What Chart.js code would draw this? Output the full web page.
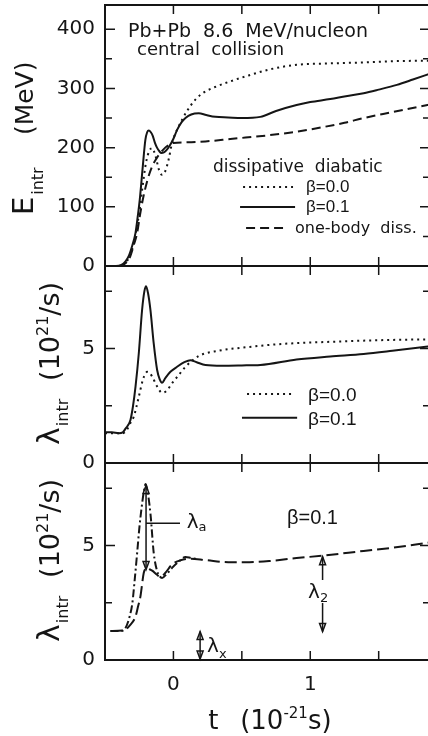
<!DOCTYPE html>
<html>
<head>
<meta charset="utf-8">
<script src="https://cdn.jsdelivr.net/npm/chart.js@4.4.1/dist/chart.umd.min.js"></script>
<style>
  html, body { margin: 0; padding: 0; background: #fff; overflow: hidden; }
  #wrap { position: relative; width: 428px; height: 736px; overflow: hidden; }
  #wrap canvas { position: absolute; left: 0; top: 0; }
</style>
</head>
<body>
<div id="wrap">
  <canvas id="energy" width="432" height="736"></canvas>
  <canvas id="rate" width="432" height="736"></canvas>
  <canvas id="split" width="432" height="736"></canvas>
</div>
<script>
// time axis (10^-21 s)
const X_MIN = -0.5;
const X_MAX = 1.875;

// top panel: E_intr (MeV)
const T_E_DOT = [-0.5, -0.4, -0.36, -0.33, -0.3, -0.275, -0.25, -0.225, -0.2, -0.175, -0.155, -0.13, -0.105, -0.083, -0.06, -0.035, -0.01, 0.03, 0.063, 0.1, 0.16, 0.22, 0.3, 0.416, 0.55, 0.7, 0.9, 1.1, 1.39, 1.6, 1.875];
const E_DOT = [0, 0, 3, 12, 30, 55, 90, 135, 175, 195, 199, 185, 162, 154, 160, 180, 208, 232, 247, 262, 281, 293, 302, 312, 322, 332, 340, 342, 344, 346, 347];
const T_E_SOLID = [-0.5, -0.42, -0.38, -0.35, -0.326, -0.3, -0.277, -0.26, -0.246, -0.224, -0.205, -0.192, -0.18, -0.165, -0.151, -0.135, -0.12, -0.1, -0.088, -0.07, -0.046, -0.02, 0, 0.027, 0.06, 0.088, 0.13, 0.185, 0.24, 0.307, 0.4, 0.5, 0.635, 0.75, 0.9, 1.0, 1.146, 1.26, 1.39, 1.5, 1.633, 1.75, 1.875];
const E_SOLID = [0, 0, 2, 8, 17, 35, 56, 85, 112, 168, 213, 226, 229, 226, 220, 208, 200, 193, 191, 192, 197, 206, 215, 230, 243, 250, 256, 258, 255, 252, 251, 250, 252, 262, 272, 277, 282, 287, 292, 298, 306, 315, 325];
const T_E_DASH = [-0.5, -0.4, -0.36, -0.33, -0.314, -0.29, -0.265, -0.245, -0.224, -0.19, -0.156, -0.12, -0.095, -0.06, -0.03, 0, 0.1, 0.234, 0.416, 0.526, 0.7, 0.9, 1.1, 1.25, 1.39, 1.6, 1.875];
const E_DASH = [0, 0, 3, 10, 17, 35, 56, 85, 112, 145, 168, 183, 191, 200, 205, 208, 209, 210.5, 214.5, 217, 221, 227, 235, 242, 250, 260, 273];

// middle panel: lambda_intr (10^21/s)
const T_L_DOT = [-0.5, -0.37, -0.34, -0.31, -0.29, -0.253, -0.224, -0.205, -0.192, -0.17, -0.155, -0.12, -0.083, -0.05, -0.01, 0.04, 0.088, 0.185, 0.33, 0.526, 0.8, 1.146, 1.5, 1.875];
const L_DOT = [1.3, 1.3, 1.45, 1.8, 2.02, 2.89, 3.62, 3.9, 3.98, 3.9, 3.77, 3.35, 3.07, 3.15, 3.48, 3.85, 4.2, 4.67, 4.9, 5.05, 5.2, 5.29, 5.36, 5.4];
const T_L_SOLID = [-0.5, -0.45, -0.4, -0.37, -0.35, -0.314, -0.295, -0.277, -0.253, -0.229, -0.212, -0.2, -0.185, -0.168, -0.144, -0.119, -0.1, -0.083, -0.06, -0.022, 0.027, 0.08, 0.124, 0.17, 0.234, 0.355, 0.5, 0.635, 0.9, 1.146, 1.39, 1.6, 1.875];
const L_SOLID = [1.34, 1.34, 1.3, 1.34, 1.5, 1.88, 2.5, 3.33, 4.79, 6.68, 7.5, 7.72, 7.4, 6.68, 5.22, 4.06, 3.65, 3.5, 3.7, 3.98, 4.2, 4.4, 4.49, 4.4, 4.28, 4.25, 4.26, 4.28, 4.52, 4.65, 4.76, 4.9, 5.1];

// bottom panel: beta = 0.1 split
const T_S_DASHDOT = [-0.46, -0.38, -0.35, -0.32, -0.3, -0.283, -0.265, -0.25, -0.234, -0.215, -0.204, -0.19, -0.168, -0.144, -0.12, -0.1, -0.083, -0.05, -0.01, 0.04, 0.088, 0.13, 0.18];
const S_DASHDOT = [1.27, 1.27, 1.4, 1.9, 2.49, 3.5, 4.68, 5.7, 6.58, 7.4, 7.68, 7.4, 6.4, 4.68, 3.9, 3.65, 3.58, 3.75, 4.02, 4.3, 4.5, 4.45, 4.4];
const T_S_DASH = [-0.46, -0.36, -0.32, -0.277, -0.26, -0.241, -0.217, -0.2, -0.192, -0.17, -0.155, -0.12, -0.095, -0.06, -0.01, 0.05, 0.112, 0.234, 0.4, 0.526, 0.7, 0.9, 1.1, 1.39, 1.6, 1.875];
const S_DASH = [1.27, 1.3, 1.5, 1.9, 2.3, 2.78, 3.8, 4.0, 4.02, 3.95, 3.9, 3.72, 3.63, 3.8, 4.17, 4.35, 4.42, 4.36, 4.27, 4.27, 4.32, 4.45, 4.56, 4.76, 4.9, 5.13];

// arrows in the bottom panel (data units)
const ARROW_A = { t: -0.2, top: 7.62, bottom: 3.95, bar: 5.97, barEnd: 0.048 };
const ARROW_X = { t: 0.195, top: 1.24, bottom: 0 };
const ARROW_2 = { t: 1.09, top: 4.51, upFrom: 3.49, downFrom: 2.49, bottom: 1.24 };

const INK = '#151515';
const SANS = '"DejaVu Sans", sans-serif';
const ARIAL = '"Liberation Sans", Arial, sans-serif';
const DOT = [2, 4];
const DASH = [9, 5];
const LONG_DASH = [12, 5];
const DASH_DOT = [8, 3, 2, 3];

const series = (ts, vs) => ts.map((t, i) => ({ x: t, y: vs[i] }));

function curve(data, dash) {
  return {
    data,
    borderColor: INK,
    borderWidth: 2,
    borderDash: dash,
    pointRadius: 0,
    fill: false,
    cubicInterpolationMode: 'monotone',
  };
}

// text runs with sub/superscripts, optionally rotated
function richText(ctx, x, y, parts, angle, family) {
  ctx.save();
  ctx.translate(x, y);
  if (angle) ctx.rotate(angle);
  ctx.fillStyle = INK;
  ctx.textAlign = 'left';
  ctx.textBaseline = 'alphabetic';
  let cx = 0;
  parts.forEach((p) => {
    ctx.font = `${p.size}px ${p.family || family || SANS}`;
    if (p.at !== undefined) cx = p.at;
    cx += p.gap || 0;
    ctx.fillText(p.text, cx, p.dy || 0);
    cx += ctx.measureText(p.text).width;
  });
  ctx.restore();
}

function sampleLine(ctx, chart, t0, t1, v, dash) {
  const { x, y } = chart.scales;
  ctx.save();
  ctx.strokeStyle = INK;
  ctx.lineWidth = 2;
  ctx.setLineDash(dash);
  ctx.beginPath();
  ctx.moveTo(x.getPixelForValue(t0), y.getPixelForValue(v));
  ctx.lineTo(x.getPixelForValue(t1), y.getPixelForValue(v));
  ctx.stroke();
  ctx.restore();
}

function arrowHead(ctx, px, py, dir) {
  // dir -1: tip pointing up, +1: tip pointing down
  ctx.beginPath();
  ctx.moveTo(px - 3, py - dir * 8);
  ctx.lineTo(px, py);
  ctx.lineTo(px + 3, py - dir * 8);
  ctx.closePath();
  ctx.stroke();
}

const frame = {
  id: 'frame',
  afterDatasetsDraw(chart) {
    const { ctx, chartArea: a, scales: { x, y } } = chart;
    ctx.save();
    ctx.strokeStyle = INK;
    ctx.lineWidth = 2;
    ctx.strokeRect(a.left, a.top, a.right - a.left, a.bottom - a.top);
    ctx.lineWidth = 1.5;
    ctx.beginPath();
    x.ticks.forEach((tk) => {
      if (tk.value <= X_MIN || tk.value >= X_MAX) return;
      const px = x.getPixelForValue(tk.value);
      ctx.moveTo(px, a.top);
      ctx.lineTo(px, a.top + 9);
      ctx.moveTo(px, a.bottom);
      ctx.lineTo(px, a.bottom - 9);
    });
    y.ticks.forEach((tk) => {
      if (tk.value <= y.min || tk.value >= y.max) return;
      const py = y.getPixelForValue(tk.value);
      const len = tk.label ? 10 : 7;
      ctx.moveTo(a.left, py);
      ctx.lineTo(a.left + len, py);
      ctx.moveTo(a.right, py);
      ctx.lineTo(a.right - len, py);
    });
    ctx.stroke();
    ctx.restore();
  },
};

function panelOptions(yMax, step, labelEvery, padTop, padBottom, showX) {
  return {
    responsive: false,
    animation: false,
    devicePixelRatio: 1,
    events: [],
    layout: { padding: { top: padTop, bottom: padBottom, left: 0, right: 2 } },
    plugins: { legend: { display: false }, tooltip: { enabled: false } },
    scales: {
      x: {
        type: 'linear',
        min: X_MIN,
        max: X_MAX,
        display: showX,
        grid: { display: false, drawTicks: false },
        border: { display: false },
        ticks: {
          stepSize: 0.5,
          includeBounds: false,
          autoSkip: false,
          maxRotation: 0,
          padding: 13,
          color: INK,
          font: { family: SANS, size: 20 },
          callback: (v) => (v === 0 || v === 1 ? String(v) : ''),
        },
        afterFit: (s) => {
          s.height = showX ? 76 : 0;
          s.paddingLeft = 0;
          s.paddingRight = 0;
        },
      },
      y: {
        type: 'linear',
        min: 0,
        max: yMax,
        grid: { display: false, drawTicks: false },
        border: { display: false },
        ticks: {
          stepSize: step,
          includeBounds: false,
          autoSkip: false,
          padding: 10,
          color: INK,
          font: { family: SANS, size: 20 },
          callback: (v) => {
            const r = v / labelEvery;
            return Math.abs(r - Math.round(r)) < 1e-6 ? String(v) : '';
          },
        },
        afterFit: (s) => { s.width = 105; s.paddingTop = 0; s.paddingBottom = 0; },
      },
    },
  };
}

const LAMBDA_TITLE = [
  { text: 'λ', size: 30 },
  { text: 'intr', size: 16, dy: 9, gap: 1 },
  { text: '(10', size: 27, at: 64 },
  { text: '21', size: 16, dy: -11 },
  { text: '/s)', size: 27 },
];

const energyDecor = {
  id: 'energyDecor',
  afterDraw(chart) {
    const { ctx, scales: { x, y } } = chart;
    const at = (t, v) => [x.getPixelForValue(t), y.getPixelForValue(v)];
    richText(ctx, 33, y.getPixelForValue(86), [
      { text: 'E', size: 29 },
      { text: 'intr', size: 16, dy: 10, gap: 2 },
      { text: '(MeV)', size: 25, at: 80 },
    ], -Math.PI / 2);
    richText(ctx, ...at(-0.332, 387.5), [{ text: 'Pb+Pb  8.6  MeV/nucleon', size: 19 }]);
    richText(ctx, ...at(-0.266, 356.5), [{ text: 'central  collision', size: 18 }]);
    richText(ctx, ...at(0.289, 158.8), [{ text: 'dissipative  diabatic', size: 17 }]);
    sampleLine(ctx, chart, 0.509, 0.874, 133.5, DOT);
    richText(ctx, ...at(0.969, 125), [{ text: 'β=0.0', size: 17 }], 0, ARIAL);
    sampleLine(ctx, chart, 0.487, 0.889, 99.7, []);
    richText(ctx, ...at(0.969, 91.2), [{ text: 'β=0.1', size: 17 }], 0, ARIAL);
    sampleLine(ctx, chart, 0.531, 0.801, 64.2, DASH);
    richText(ctx, ...at(0.889, 55.8), [{ text: 'one-body  diss.', size: 16 }]);
  },
};

const rateDecor = {
  id: 'rateDecor',
  afterDraw(chart) {
    const { ctx, scales: { x, y } } = chart;
    const at = (t, v) => [x.getPixelForValue(t), y.getPixelForValue(v)];
    richText(ctx, 59, y.getPixelForValue(0.79), LAMBDA_TITLE, -Math.PI / 2);
    sampleLine(ctx, chart, 0.538, 0.874, 3.01, DOT);
    richText(ctx, ...at(0.984, 2.71), [{ text: 'β=0.0', size: 19 }], 0, ARIAL);
    sampleLine(ctx, chart, 0.501, 0.904, 1.98, []);
    richText(ctx, ...at(0.984, 1.66), [{ text: 'β=0.1', size: 19 }], 0, ARIAL);
  },
};

const splitDecor = {
  id: 'splitDecor',
  afterDraw(chart) {
    const { ctx, chartArea: a, scales: { x, y } } = chart;
    const at = (t, v) => [x.getPixelForValue(t), y.getPixelForValue(v)];
    richText(ctx, 59, y.getPixelForValue(0.79), LAMBDA_TITLE, -Math.PI / 2);
    richText(ctx, x.getPixelForValue(0.254), a.bottom + 69, [
      { text: 't', size: 26 },
      { text: '(10', size: 26, at: 32 },
      { text: '-21', size: 15, dy: -11 },
      { text: 's)', size: 26 },
    ]);
    richText(ctx, ...at(0.83, 5.94), [{ text: 'β=0.1', size: 20 }], 0, ARIAL);
    richText(ctx, ...at(0.097, 5.76), [{ text: 'λ', size: 20 }, { text: 'a', size: 13, dy: 3 }]);
    richText(ctx, ...at(0.984, 2.71), [{ text: 'λ', size: 20 }, { text: '2', size: 13, dy: 4 }]);
    richText(ctx, ...at(0.246, 0.35), [{ text: 'λ', size: 20 }, { text: 'x', size: 13, dy: 6 }]);

    ctx.save();
    ctx.strokeStyle = INK;
    ctx.lineWidth = 1.5;
    // lambda_a
    const ax = x.getPixelForValue(ARROW_A.t);
    const aTop = y.getPixelForValue(ARROW_A.top);
    const aBot = y.getPixelForValue(ARROW_A.bottom);
    ctx.beginPath();
    ctx.moveTo(ax, aTop);
    ctx.lineTo(ax, aBot);
    ctx.moveTo(ax, y.getPixelForValue(ARROW_A.bar));
    ctx.lineTo(x.getPixelForValue(ARROW_A.barEnd), y.getPixelForValue(ARROW_A.bar));
    ctx.stroke();
    arrowHead(ctx, ax, aTop, -1);
    arrowHead(ctx, ax, aBot, 1);
    // lambda_x
    const xx = x.getPixelForValue(ARROW_X.t);
    const xTop = y.getPixelForValue(ARROW_X.top);
    const xBot = y.getPixelForValue(ARROW_X.bottom);
    ctx.beginPath();
    ctx.moveTo(xx, xTop);
    ctx.lineTo(xx, xBot);
    ctx.stroke();
    arrowHead(ctx, xx, xTop, -1);
    arrowHead(ctx, xx, xBot - 1, 1);
    // lambda_2
    const lx = x.getPixelForValue(ARROW_2.t);
    const lTop = y.getPixelForValue(ARROW_2.top);
    const lBot = y.getPixelForValue(ARROW_2.bottom);
    ctx.beginPath();
    ctx.moveTo(lx, y.getPixelForValue(ARROW_2.upFrom));
    ctx.lineTo(lx, lTop);
    ctx.moveTo(lx, y.getPixelForValue(ARROW_2.downFrom));
    ctx.lineTo(lx, lBot);
    ctx.stroke();
    arrowHead(ctx, lx, lTop, -1);
    arrowHead(ctx, lx, lBot, 1);
    ctx.restore();
  },
};

new Chart(document.getElementById('energy'), {
  type: 'line',
  data: {
    datasets: [
      curve(series(T_E_SOLID, E_SOLID), []),
      curve(series(T_E_DOT, E_DOT), DOT),
      curve(series(T_E_DASH, E_DASH), DASH),
    ],
  },
  options: panelOptions(441, 50, 100, 5, 736 - 266, false),
  plugins: [frame, energyDecor],
});

new Chart(document.getElementById('rate'), {
  type: 'line',
  data: {
    datasets: [
      curve(series(T_L_SOLID, L_SOLID), []),
      curve(series(T_L_DOT, L_DOT), DOT),
    ],
  },
  options: panelOptions(8.6, 2.5, 5, 266, 736 - 463, false),
  plugins: [frame, rateDecor],
});

new Chart(document.getElementById('split'), {
  type: 'line',
  data: {
    datasets: [
      curve(series(T_S_DASHDOT, S_DASHDOT), DASH_DOT),
      curve(series(T_S_DASH, S_DASH), LONG_DASH),
    ],
  },
  options: panelOptions(8.6, 2.5, 5, 463, 0, true),
  plugins: [frame, splitDecor],
});
</script>
</body>
</html>
